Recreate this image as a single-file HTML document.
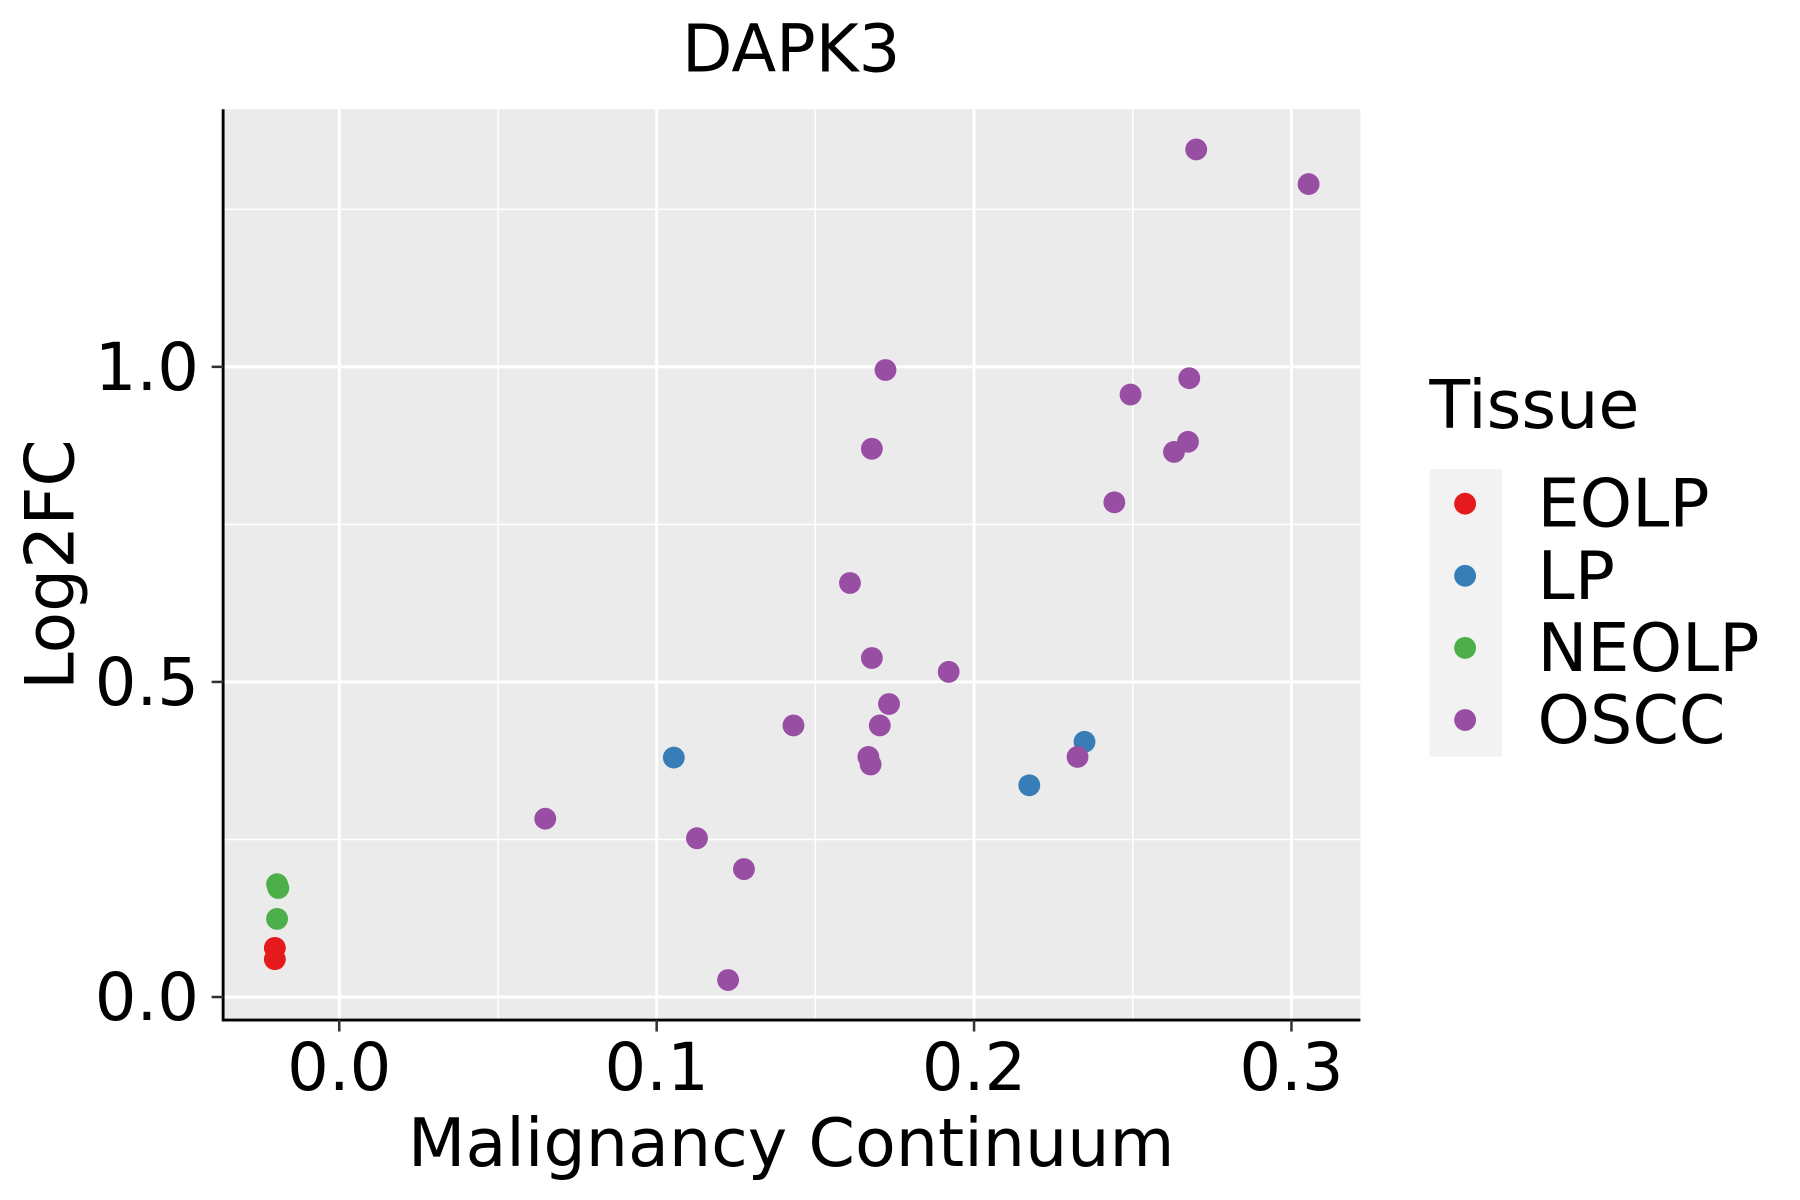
<!DOCTYPE html>
<html><head><meta charset="utf-8"><style>html,body{margin:0;padding:0;background:#fff;}svg{display:block;}text{font-family:"DejaVu Sans","Liberation Sans",sans-serif;fill:#000;}</style></head>
<body>
<svg id="chart" width="1800" height="1200" viewBox="0 0 1565.2 1043.5" xmlns="http://www.w3.org/2000/svg">
<rect x="195" y="95" width="988" height="792" fill="#ebebeb"/>
<g id="grid"></g>
<g id="points"></g>
<line x1="194" y1="95" x2="194" y2="888" stroke="#000" stroke-width="2.5"/>
<line x1="193" y1="887" x2="1183" y2="887" stroke="#000" stroke-width="2.5"/>
<g id="ticks"></g>
<text x="688" y="62" font-size="57" text-anchor="middle">DAPK3</text>
<text x="688" y="1014" font-size="58" text-anchor="middle">Malignancy Continuum</text>
<text x="0" y="0" font-size="59" text-anchor="middle" transform="translate(64,491) rotate(-90)">Log2FC</text>
<g>
<text x="1243" y="372" font-size="58">Tissue</text>
<rect x="1243" y="408" width="63" height="250" fill="#f2f2f2"/>
<g id="legend-items"></g>
</g>
</svg>
<script>
const categories = ["EOLP","LP","NEOLP","OSCC"];
const colors = ["#e41a1c","#377eb8","#4daf4a","#984ea3"];
const xTicks = [0.0,0.1,0.2,0.3];
const xTickLabels = ["0.0","0.1","0.2","0.3"];
const yTicks = [0.0,0.5,1.0];
const yTickLabels = ["0.0","0.5","1.0"];
const xMinor = [0.05,0.15,0.25];
const yMinor = [0.25,0.75,1.25];
const eolpX = [-0.0203,-0.0203];
const eolpY = [0.078,0.060];
const lpX = [0.1054,0.2174,0.2348];
const lpY = [0.380,0.336,0.405];
const neolpX = [-0.0196,-0.0192,-0.0196];
const neolpY = [0.179,0.173,0.124];
const osccX = [0.270,0.3054,0.1721,0.2678,0.2493,0.1678,0.2674,0.2630,0.2442,0.1609,0.1678,0.1920,0.1732,0.1431,0.1703,0.1667,0.1674,0.2326,0.0649,0.1127,0.1275,0.1225];
const osccY = [1.345,1.290,0.995,0.982,0.956,0.870,0.881,0.865,0.785,0.657,0.538,0.516,0.465,0.431,0.431,0.381,0.369,0.381,0.283,0.252,0.203,0.027];

const NS = "http://www.w3.org/2000/svg";
function sx(v){ return 295 + v*2760; }
function sy(v){ return 867 - v*548; }
function mk(tag, attrs, parent){ const e=document.createElementNS(NS,tag); for(const k in attrs) e.setAttribute(k, attrs[k]); parent.appendChild(e); return e; }

const grid = document.getElementById('grid');
xMinor.forEach(v=>{ const l=mk('line',{x1:sx(v),x2:sx(v),y1:95,y2:887,stroke:'#fff','stroke-width':1.3},grid);

 });
yMinor.forEach(v=>{ const l=mk('line',{x1:195,x2:1183,y1:sy(v),y2:sy(v),stroke:'#fff','stroke-width':1.3},grid);

 });
xTicks.forEach(v=>{ const l=mk('line',{x1:sx(v),x2:sx(v),y1:95,y2:887,stroke:'#fff','stroke-width':2.6},grid);

 });
yTicks.forEach(v=>{ const l=mk('line',{x1:195,x2:1183,y1:sy(v),y2:sy(v),stroke:'#fff','stroke-width':2.6},grid);

 });

const ticks = document.getElementById('ticks');
xTicks.forEach((v,i)=>{
  const l=mk('line',{x1:sx(v),x2:sx(v),y1:887,y2:897,stroke:'#333','stroke-width':2.2},ticks);
  
  
  const t=mk('text',{x:sx(v),y:948,'font-size':57,'text-anchor':'middle'},ticks);
  t.textContent=xTickLabels[i];
  
  
});
yTicks.forEach((v,i)=>{
  const l=mk('line',{x1:184,x2:194,y1:sy(v),y2:sy(v),stroke:'#333','stroke-width':2.2},ticks);
  
  
  const t=mk('text',{x:173,y:sy(v)+20,'font-size':57,'text-anchor':'end'},ticks);
  t.textContent=yTickLabels[i];
  
  
});

const pts = document.getElementById('points');
const series = [[eolpX,eolpY],[lpX,lpY],[neolpX,neolpY],[osccX,osccY]];
series.forEach((s,ci)=>{
  s[0].forEach((xv,j)=>{
    const c=mk('circle',{cx:sx(xv),cy:sy(s[1][j]),r:9.5,fill:colors[ci]},pts);
    
    
  });
});

const li = document.getElementById('legend-items');
categories.forEach((c,i)=>{
  const y = 438 + i*62.7;
  const d=mk('circle',{cx:1274,cy:y,r:9.5,fill:colors[i]},li);
  
  
  const t=mk('text',{x:1337,y:y+20,'font-size':58},li);
  t.textContent=c;
  
  
});
</script>
</body></html>
